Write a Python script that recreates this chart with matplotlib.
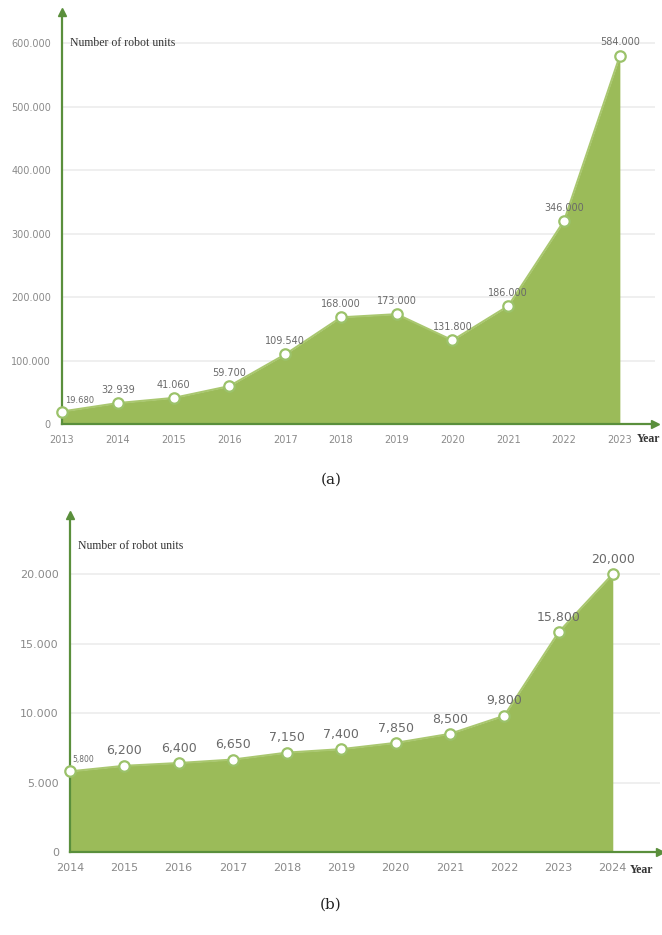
import matplotlib
matplotlib.use("Agg")
import matplotlib.pyplot as plt

# chart (a)
years_a = [2013, 2014, 2015, 2016, 2017, 2018, 2019, 2020, 2021, 2022, 2023]
units_a = [19680, 32939, 41060, 59700, 109540, 168000, 173000, 131800, 186000, 320000, 580000]
labels_a = ["19.680", "32.939", "41.060", "59.700", "109.540", "168.000", "173.000",
            "131.800", "186.000", "346.000", "584.000"]
yticks_a = [0, 100000, 200000, 300000, 400000, 500000, 600000]
yticklabels_a = ["0", "100.000", "200.000", "300.000", "400.000", "500.000", "600.000"]

# chart (b)
years_b = [2014, 2015, 2016, 2017, 2018, 2019, 2020, 2021, 2022, 2023, 2024]
units_b = [5800, 6200, 6400, 6650, 7150, 7400, 7850, 8500, 9800, 15800, 20000]
labels_b = ["5,800", "6,200", "6,400", "6,650", "7,150", "7,400", "7,850",
            "8,500", "9,800", "15,800", "20,000"]
yticks_b = [0, 5000, 10000, 15000, 20000]
yticklabels_b = ["0", "5.000", "10.000", "15.000", "20.000"]

W, H = 662, 935
fill_green = "#9bbb59"
axis_green = "#5a8f3c"
grey = "#8a8a8a"

fig = plt.figure(figsize=(W / 100, H / 100), dpi=100)


def px_axes(left, right, top, bottom):
    return fig.add_axes([left / W, 1 - bottom / H, (right - left) / W, (bottom - top) / H])


def draw(ax, xs, ys, labels, yticks, yticklabels, xmax, ymax, lab_size, tick_size,
         first_small, year_off):
    ax.set_xlim(xs[0], xmax)
    ax.set_ylim(0, ymax)
    for s in ["top", "right"]:
        ax.spines[s].set_visible(False)
    for s in ["left", "bottom"]:
        ax.spines[s].set_color(axis_green)
        ax.spines[s].set_linewidth(1.6)
    ax.plot(1, 0, ">", color=axis_green, ms=6, transform=ax.transAxes, clip_on=False)
    ax.plot(0, 1, "^", color=axis_green, ms=6, transform=ax.transAxes, clip_on=False)

    ax.set_yticks(yticks)
    ax.set_yticklabels(yticklabels)
    ax.set_xticks(xs)
    ax.set_xticklabels([str(x) for x in xs])
    ax.tick_params(axis="both", length=0, colors=grey, labelsize=tick_size)
    ax.tick_params(axis="y", pad=8)
    ax.tick_params(axis="x", pad=8)
    ax.yaxis.grid(True, color="#ececec", linewidth=1.2)
    ax.set_axisbelow(True)

    ax.fill_between(xs, ys, 0, color=fill_green, linewidth=0, zorder=2)
    ax.plot(xs, ys, color="#a9c76f", linewidth=1.5, zorder=3)
    ax.plot(xs, ys, "o", ms=7.5, mfc="white", mec="#9bc26a", mew=1.6, zorder=4, clip_on=False)

    for i, (x, y, t) in enumerate(zip(xs, ys, labels)):
        if i == 0:
            ax.annotate(t, (x, y), xytext=(2, 5), textcoords="offset points",
                        fontsize=first_small, color="#6a6a6a", ha="left", va="bottom", zorder=5)
        else:
            ax.annotate(t, (x, y), xytext=(0, 6), textcoords="offset points",
                        fontsize=lab_size, color="#6a6a6a", ha="center", va="bottom", zorder=5)

    ax.annotate("Number of robot units", (0, 1), xycoords="axes fraction",
                xytext=(6, -18), textcoords="offset points", fontsize=8.5,
                family="Liberation Serif", color="#333333", ha="left", va="top")
    ax.annotate("Year", (1, 0), xycoords="axes fraction", xytext=year_off,
                textcoords="offset points", fontsize=8.5, family="Liberation Serif",
                color="#333333", ha="left", va="center", weight="bold")


ax1 = px_axes(62, 655, 12, 424)
draw(ax1, years_a, units_a, labels_a, yticks_a, yticklabels_a,
     2023.63, 649000, 7, 7, 6, (-13, -11))

ax2 = px_axes(70, 660, 515, 852)
draw(ax2, years_b, units_b, labels_b, yticks_b, yticklabels_b,
     2024.87, 24245, 9, 8, 5.5, (-22, -13))

fig.text(331 / W, 1 - 480 / H, "(a)", fontsize=11, family="DejaVu Serif",
         ha="center", va="center", color="#222222")
fig.text(331 / W, 1 - 905 / H, "(b)", fontsize=11, family="DejaVu Serif",
         ha="center", va="center", color="#222222")

fig.savefig("out.png", dpi=100, facecolor="white")
